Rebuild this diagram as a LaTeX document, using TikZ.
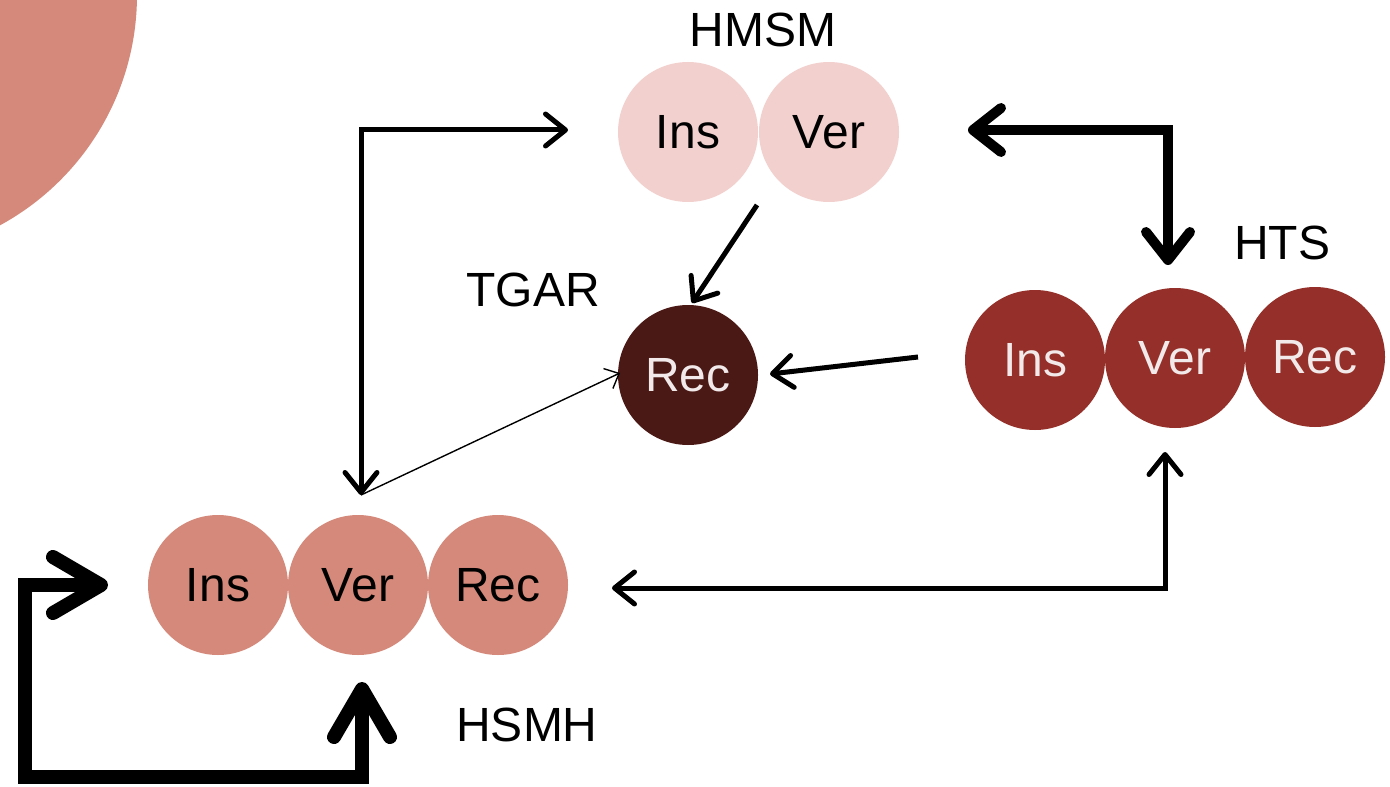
\documentclass[tikz,border=0pt]{standalone}
\usepackage{fontspec}
\setmainfont{Liberation Sans}
\usetikzlibrary{arrows.meta}
\definecolor{bigc}{HTML}{D4897A}
\definecolor{pinkc}{HTML}{F2D0CE}
\definecolor{redc}{HTML}{943029}
\definecolor{darkc}{HTML}{4B1915}
\definecolor{lighttext}{HTML}{F2EAEA}
\begin{document}
\begin{tikzpicture}[x=0.5pt,y=-0.5pt,
  font=\fontsize{24}{28}\selectfont,
  bub/.style={circle, minimum size=70pt, inner sep=0pt},
  pinkbub/.style={bub, fill=pinkc, text=black},
  redbub/.style={bub, fill=redc, text=lighttext},
  salbub/.style={bub, fill=bigc, text=black},
  darkbub/.style={bub, fill=darkc, text=lighttext},
  lbl/.style={text=black},
  medtip/.style={},
  thinarr/.style={line width=0.7pt, -{Straight Barb[length=6pt,width=11pt]}},
  medarr/.style={line width=2.5pt, -{Straight Barb[length=10pt,width=16pt,round]}},
  medbi/.style={line width=2.5pt, {Straight Barb[length=10pt,width=16pt,round]}-{Straight Barb[length=10pt,width=16pt,round]}},
  thickbi/.style={line width=5pt, {Straight Barb[length=14pt,width=22pt,round]}-{Straight Barb[length=14pt,width=22pt,round]}},
  hugebi/.style={line width=7pt, {Straight Barb[length=24pt,width=28pt,round]}-{Straight Barb[length=24pt,width=28pt,round]}}
]
\useasboundingbox (0,0) rectangle (1390,786);
\begin{scope}
  \clip (0,0) rectangle (1390,786);
  \fill[bigc] (-125,-5) circle (262);
\end{scope}

% HMSM
\node[pinkbub] (mi) at (688,132) {Ins};
\node[pinkbub] (mv) at (829,132) {Ver};
\node[lbl] (hmsm) at (763,30) {HMSM};

% HTS
\node[redbub] (ti) at (1035,360) {Ins};
\node[redbub] (tv) at (1175,358) {Ver};
\node[redbub] (tr) at (1315,357) {Rec};
\node[lbl] (hts) at (1282,243) {HTS};

% TGAR
\node[darkbub] (gr) at (688,375) {Rec};
\node[lbl] (tgar) at (533,290) {TGAR};

% HSMH
\node[salbub] (si) at (218,585) {Ins};
\node[salbub] (sv) at (358,585) {Ver};
\node[salbub] (sr) at (498,585) {Rec};
\node[lbl] (hsmh) at (527,725) {HSMH};

% connector end points
\coordinate (a1s) at (361,495);
\coordinate (a1e) at (568,130);
\coordinate (a3s) at (757,205);
\coordinate (a3e) at (692,303);
\coordinate (a4s) at (918,357);
\coordinate (a4e) at (770,374);
\coordinate (a5s) at (968,130);
\coordinate (a5e) at (1168,265);
\coordinate (a6s) at (612,588);
\coordinate (a6e) at (1165,452);
\coordinate (a7s) at (108,585);
\coordinate (a7e) at (362,682);
\coordinate (a2e) at (620,373);

\draw[medbi] (a1s) |- (a1e);
\draw[thinarr] (a1s) -- (a2e);
\draw[medarr] (a3s) -- (a3e);
\draw[medarr] (a4s) -- (a4e);
\draw[thickbi] (a5s) -| (a5e);
\draw[medbi] (a6s) -| (a6e);
\draw[hugebi] (a7s) -- (25,585) -- (25,777) -- (362,777) -- (a7e);
\end{tikzpicture}
\end{document}
